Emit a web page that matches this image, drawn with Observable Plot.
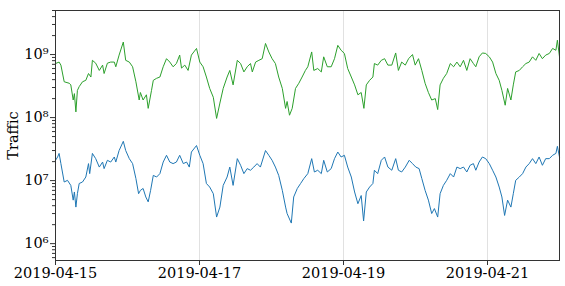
<!DOCTYPE html>
<html><head><meta charset="utf-8">
<script src="https://cdn.jsdelivr.net/npm/d3@7"></script>
<script src="https://cdn.jsdelivr.net/npm/@observablehq/plot@0.6"></script>
<style>body{margin:0;background:#fff}</style>
</head><body><div id="chart"></div>
<script>
const startDate = "2019-04-15T00:00:00Z";
const endDate = "2019-04-22T00:00:00Z";
const xTickDates = ["2019-04-15", "2019-04-17", "2019-04-19", "2019-04-21"];
const yMajorTicks = [1e6, 1e7, 1e8, 1e9];
const yMinorMultipliers = [2, 3, 4, 5, 6, 7, 8, 9];
const yLabel = "Traffic";
const seriesNames = ["upper", "lower"];
const seriesColors = ["#2ca02c", "#1f77b4"];

// hours since 2019-04-15 00:00 UTC
const greenHours = [0,1.2,1.8,2.9,4.6,5.1,5.9,6.3,6.8,7.3,7.9,9,10.1,11,11.8,12.3,13.4,14.6,15.7,16.2,17.3,18.4,19.6,20.1,21.2,22.6,23.4,24.6,25.7,26.8,27.9,28.3,29.2,30.3,30.9,32,32.6,33.7,34.8,35.9,37,38.1,39.2,40.3,41.4,42,43.1,44.2,45.3,47,48.1,49.2,50.3,51.4,52.6,53.7,54.8,55.9,57.2,58.1,59.2,60.6,61.7,62.8,63.9,65,65.6,66.7,67.8,68.9,70,71.1,72.2,73.3,74.4,75.6,76.7,77.2,78,78.9,80,81.1,82.2,83.3,84.1,85.4,86.1,87.4,88.6,89.4,90.6,91.9,93,94.1,95.2,96.3,97.4,98.6,99.7,100.8,101.9,102.8,103.6,104.7,105.8,106.3,107.4,108.6,109.7,110.8,112.1,113.4,114.3,115.4,116.6,117.7,119,119.9,121,122.1,123.2,124.3,125.4,126.6,127.4,128.2,129.3,130.4,131.6,132.7,133.8,134.9,136,137.1,138.2,139.3,140.1,141.2,142.3,143.4,144.6,145.7,146.8,147.9,148.8,149.9,150.7,151.8,152.6,153.4,154.6,155.7,156.8,157.9,159,160.1,161.2,162.3,163.4,164.6,165.7,166.8,167.3,168];
const greenValues = [7.2e8,7.6e8,6.8e8,3.7e8,3.5e8,3.3e8,1.9e8,2.4e8,1.23e8,2.7e8,3.1e8,3.7e8,3.9e8,5.0e8,4.4e8,8.1e8,7.3e8,5.6e8,6.8e8,5.0e8,7.3e8,7.6e8,7.6e8,6.4e8,9.8e8,1.58e9,8.1e8,7.6e8,6.4e8,3.7e8,1.9e8,2.5e8,1.9e8,2.3e8,1.4e8,2.7e8,3.9e8,4.2e8,4.4e8,6.4e8,8.6e8,7.6e8,6.4e8,7.2e8,9.8e8,6.1e8,6.8e8,5.6e8,9.8e8,1.25e9,7.6e8,6.4e8,4.4e8,2.9e8,2.1e8,9.7e7,1.7e8,2.9e8,4.4e8,5.6e8,3.3e8,8.1e8,7.2e8,5.3e8,6.4e8,7.2e8,5.3e8,7.6e8,8.1e8,8.6e8,1.5e9,1.1e9,8.6e8,7.2e8,4.4e8,2.9e8,1.4e8,1.8e8,1.09e8,1.4e8,2.9e8,3.5e8,4.4e8,5.6e8,6.4e8,1.1e9,5.6e8,6.0e8,5.3e8,9.2e8,6.4e8,6.4e8,8.6e8,1.4e9,1.17e9,1.04e9,6.0e8,4.4e8,3.3e8,2.3e8,2.5e8,1.4e8,3.3e8,3.9e8,4.4e8,7.2e8,6.8e8,8.1e8,8.6e8,6.8e8,6.8e8,1.06e9,5.6e8,7.6e8,6.8e8,8.6e8,1.0e9,6.8e8,8.6e8,5.6e8,3.5e8,2.5e8,1.9e8,2.0e8,1.34e8,3.3e8,4.2e8,5.0e8,7.2e8,6.4e8,7.6e8,6.4e8,8.1e8,5.6e8,8.6e8,7.2e8,6.4e8,9.2e8,1.06e9,1.04e9,9.2e8,7.6e8,5.0e8,3.9e8,2.7e8,1.57e8,2.9e8,1.9e8,3.3e8,5.3e8,5.6e8,6.4e8,7.2e8,7.6e8,9.2e8,8.1e8,1.04e9,8.6e8,9.8e8,1.04e9,1.25e9,1.17e9,1.69e9,9.2e8];

const blueHours = [0,0.7,1.2,1.8,2.9,4,5.1,5.9,6.3,6.8,7.3,7.9,9,10.1,11,11.4,12.3,13.4,14.6,15.7,16.2,17.3,18.4,19.6,20.1,21.2,22.6,23.4,24.6,25.7,26.8,27.7,28.3,29.2,30.1,30.9,31.7,32.6,33.7,34.8,35.9,37,38.1,39.2,40.3,41.4,42.6,43.7,44.6,45.3,47,48.1,49.2,50.3,51.4,52.6,53.7,54.8,55.9,57.2,58.1,59.2,60.6,61.7,62.8,63.9,65,66.1,67.2,68.3,70,71.1,72.2,73.3,74.4,75.6,76.7,77.2,78.6,79.4,80.6,81.7,82.8,84.1,85.4,86.3,87.4,88.6,89.4,90.6,91.9,93,94.1,95.2,96.3,97.4,98.6,99.7,100.8,101.9,102.7,103.6,104.7,105.8,106.3,107.4,108.6,109.7,110.8,112.1,113.4,114.3,115.4,116.6,117.9,119,120.1,121.2,122.1,123.2,124.3,125.4,126.3,127.4,128.2,129.3,130.4,131.6,132.7,133.8,134.9,136,137.1,138.2,139.3,140.1,141.2,142.3,143.4,144.6,145.7,146.8,147.9,148.8,149.7,150.7,151.8,152.6,153.4,154.6,155.7,156.8,157.9,159,160.1,161.2,162.3,163.4,164.6,165.7,166.8,167.3,168];
const blueValues = [2.1e7,2.37e7,2.7e7,1.86e7,9.5e6,1.01e7,8.4e6,4.9e6,6.6e6,3.8e6,6.2e6,9.0e6,9.5e6,1.14e7,1.86e7,1.29e7,2.7e7,2.23e7,1.64e7,1.97e7,1.55e7,2.1e7,1.97e7,2.37e7,1.97e7,3.0e7,4.2e7,3.0e7,2.23e7,1.86e7,1.08e7,6.2e6,7.0e6,7.5e6,5.5e6,4.6e6,7.0e6,1.21e7,1.14e7,1.29e7,1.97e7,2.52e7,1.97e7,1.86e7,1.97e7,2.52e7,1.86e7,1.97e7,1.64e7,2.84e7,3.6e7,2.52e7,1.86e7,9.0e6,7.9e6,6.2e6,2.64e6,3.8e6,8.4e6,1.14e7,1.64e7,8.4e6,2.23e7,1.75e7,1.29e7,1.55e7,1.46e7,1.64e7,1.86e7,1.64e7,3.0e7,2.52e7,2.1e7,1.64e7,1.21e7,7.0e6,3.8e6,3.0e6,2.12e6,5.5e6,7.5e6,9.0e6,1.08e7,1.29e7,2.23e7,1.37e7,1.46e7,1.29e7,2.1e7,1.37e7,1.55e7,2.23e7,2.84e7,2.37e7,2.52e7,1.64e7,1.14e7,6.6e6,4.3e6,5.8e6,2.29e6,6.6e6,7.9e6,9.0e6,1.46e7,1.29e7,2.1e7,2.37e7,1.64e7,1.46e7,2.23e7,1.46e7,1.37e7,1.64e7,2.1e7,1.86e7,1.64e7,1.55e7,1.08e7,7.0e6,4.9e6,3.0e6,3.6e6,2.64e6,6.2e6,8.4e6,1.01e7,1.29e7,1.14e7,1.64e7,1.55e7,1.64e7,1.37e7,1.75e7,1.86e7,1.46e7,1.97e7,2.37e7,2.23e7,1.86e7,1.46e7,1.14e7,7.9e6,5.5e6,2.8e6,4.9e6,3.8e6,6.2e6,1.01e7,1.14e7,1.29e7,1.64e7,1.86e7,2.23e7,1.86e7,2.37e7,1.75e7,2.23e7,2.23e7,2.52e7,2.7e7,3.5e7,2.37e7];

const t0 = new Date(startDate).getTime();
const rows = [];
greenHours.forEach((h, i) => rows.push({t: new Date(t0 + h * 3600e3), v: greenValues[i], s: seriesNames[0]}));
blueHours.forEach((h, i) => rows.push({t: new Date(t0 + h * 3600e3), v: blueValues[i], s: seriesNames[1]}));

const yDomain = [5.4e5, 5e9];
const minorTicks = [];
[1e5, ...yMajorTicks].forEach(b => yMinorMultipliers.forEach(m => {
  const v = b * m; if (v >= yDomain[0] && v <= yDomain[1]) minorTicks.push(v);
}));
const sup = {"0":"⁰","1":"¹","2":"²","3":"³","4":"⁴","5":"⁵","6":"⁶","7":"⁷","8":"⁸","9":"⁹","-":"⁻"};
const fmtPow = d => "10" + String(Math.round(Math.log10(d))).split("").map(c => sup[c]).join("");
const xTicks = xTickDates.map(d => new Date(d + "T00:00:00Z"));

const chart = Plot.plot({
  width: 565, height: 286,
  marginLeft: 55, marginRight: 6, marginTop: 10, marginBottom: 26,
  style: {fontFamily: "'DejaVu Serif', serif", fontSize: "14.5px", background: "#fff", color: "#000"},
  x: {type: "utc", domain: [new Date(startDate), new Date(endDate)]},
  y: {type: "log", domain: yDomain},
  color: {type: "categorical", domain: seriesNames, range: seriesColors},
  marks: [
    Plot.gridX(xTicks, {stroke: "#d9d9d9", strokeOpacity: 1, strokeWidth: 0.8}),
    Plot.line(rows, {x: "t", y: "v", z: "s", stroke: "s", strokeWidth: 1}),
    Plot.frame({stroke: "#333", strokeWidth: 1}),
    Plot.axisX(xTicks, {tickFormat: d3.utcFormat("%Y-%m-%d"), tickSize: 5, tickPadding: 2, fontSize: 14.5, label: null, stroke: "#333"}),
    Plot.axisY(yMajorTicks, {tickFormat: fmtPow, tickSize: 5, tickPadding: 2, fontSize: 14.5, label: null, stroke: "#333"}),
    Plot.axisY(minorTicks, {tickFormat: () => "", tickSize: 3, label: null, stroke: "#333"}),
    Plot.text([yLabel], {frameAnchor: "left", dx: -42.5, rotate: -90, lineAnchor: "middle", textAnchor: "middle", fontSize: 14.5, fill: "#000"})
  ]
});
document.getElementById("chart").appendChild(chart);
</script>
</body></html>
